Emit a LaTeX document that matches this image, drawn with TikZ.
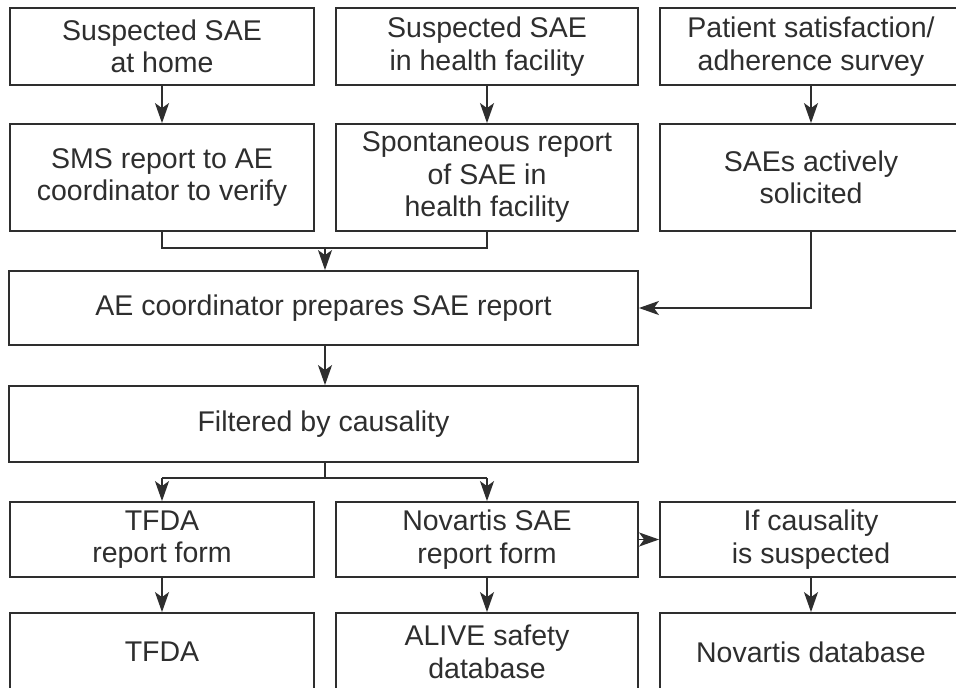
\documentclass[tikz,border=0pt]{standalone}
\usepackage{fontspec}
\setmainfont{Liberation Sans}
\usetikzlibrary{arrows.meta,calc}
\definecolor{ink}{HTML}{2E2E2E}
\tikzset{headtip/.tip={Stealth[length=20pt,width=14pt,inset=5pt]}}
\begin{document}
\begin{tikzpicture}[x=1pt,y=-1pt,
  box/.style={draw=ink,line width=1.8pt,rectangle,align=center,inner sep=0pt,
    text=ink,font=\fontsize{28.5}{32.5}\selectfont},
  conn/.style={draw=ink,line width=1.8pt},
  arr/.style={conn,-headtip}]
\useasboundingbox (0,0) rectangle (956,688);
\clip (0,0) rectangle (956,688);
\fill[white] (0,0) rectangle (956,688);
% row 1
\node[box,minimum width=304pt,minimum height=77pt] (a1) at (162,46.5) {Suspected SAE\\at home};
\node[box,minimum width=302pt,minimum height=77pt] (a2) at (487,46.5) {Suspected SAE\\in health facility};
\node[box,minimum width=302pt,minimum height=77pt] (a3) at (811,46.5) {Patient satisfaction/\\adherence survey};
% row 2
\node[box,minimum width=304pt,minimum height=107pt] (b1) at (162,177.5) {SMS report to AE\\coordinator to verify};
\node[box,minimum width=302pt,minimum height=107pt] (b2) at (487,177.5) {Spontaneous report\\of SAE in\\health facility};
\node[box,minimum width=302pt,minimum height=107pt] (b3) at (811,177.5) {SAEs actively\\solicited};
% row 3, 4
\node[box,minimum width=629pt,minimum height=74pt] (ae) at (323.5,308) {AE coordinator prepares SAE report};
\node[box,minimum width=629pt,minimum height=76pt] (fc) at (323.5,424) {Filtered by causality};
% row 5
\node[box,minimum width=304pt,minimum height=75pt] (c1) at (162,539.5) {TFDA\\report form};
\node[box,minimum width=302pt,minimum height=75pt] (c2) at (487,539.5) {Novartis SAE\\report form};
\node[box,minimum width=302pt,minimum height=75pt] (c3) at (811,539.5) {If causality\\is suspected};
% row 6
\node[box,minimum width=304pt,minimum height=78pt] (d1) at (162,652) {TFDA};
\node[box,minimum width=302pt,minimum height=78pt] (d2) at (487,652) {ALIVE safety\\database};
\node[box,minimum width=302pt,minimum height=78pt] (d3) at (811,652) {Novartis database};
% helper coordinates
\coordinate (m1) at (162,248);
\coordinate (m2) at (487,248);
\coordinate (mm) at (325,248);
\coordinate (sp) at (325,478);
\coordinate (s1) at (162,478);
\coordinate (s2) at (487,478);
% connectors
\draw[arr] (a1) -- (b1);
\draw[arr] (a2) -- (b2);
\draw[arr] (a3) -- (b3);
\draw[conn] (b1.south) -- (m1) -- (m2) -- (b2.south);
\draw[arr] (mm) -- (mm |- ae.north);
\draw[arr] (b3.south) |- (ae.east);
\draw[arr] (ae.south -| mm) -- (fc.north -| mm);
\draw[conn] (fc.south -| sp) -- (sp);
\draw[conn] (s1) -- (s2);
\draw[arr] (s1) -- (c1.north);
\draw[arr] (s2) -- (c2.north);
\draw[arr] (c2) -- (c3);
\draw[arr] (c1) -- (d1);
\draw[arr] (c2) -- (d2);
\draw[arr] (c3) -- (d3);
\end{tikzpicture}
\end{document}
